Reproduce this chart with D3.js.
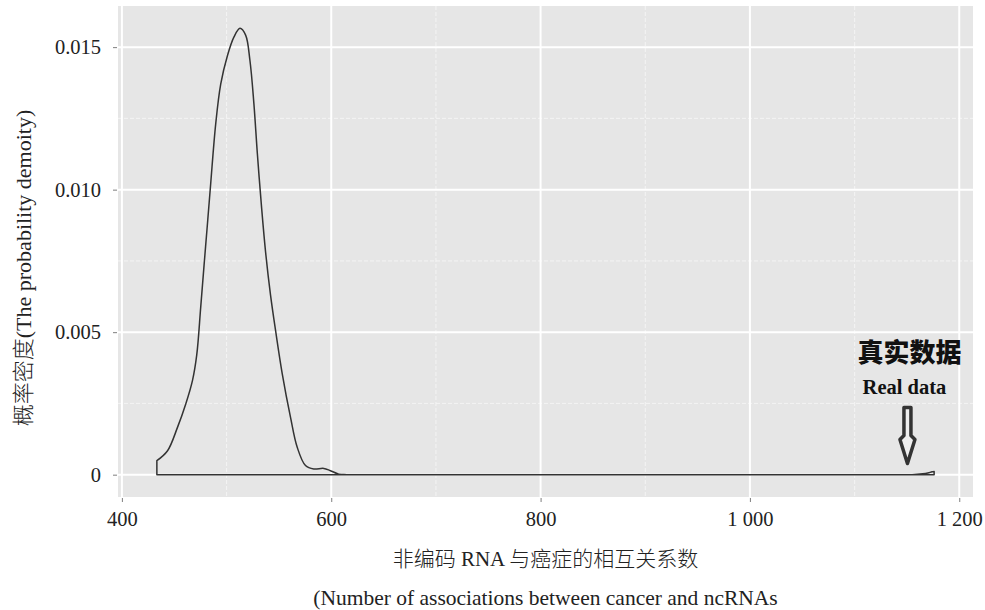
<!DOCTYPE html>
<html>
<head>
<meta charset="utf-8">
<script src="https://cdn.jsdelivr.net/npm/d3@7"></script>
<style>
  body { margin: 0; background: #fff; }
  text { font-family: "Liberation Serif", "Noto Sans CJK SC", serif; }
</style>
</head>
<body>
<div id="chart"></div>
<script>
// density curve
var densityX = [433.4, 443.6, 453.1, 461, 467.4, 471.5, 475.3, 478.5, 481.5, 484.8, 489.6, 494.4,
    500.8, 507.1, 512.8, 518.2, 522.3, 526.1, 529.4, 533.5, 537.3, 542, 546.8, 553.2, 561.1,
    567.5, 575.4, 583.3, 592.9, 599.2, 607.2, 615, 700, 800, 900, 1000, 1100, 1155, 1165, 1170, 1174, 1176];
var densityY = [0.00049, 0.00084, 0.00166, 0.00248, 0.0033, 0.0042, 0.00588, 0.00735, 0.0087, 0.0102, 0.0123, 0.0137,
    0.0147, 0.01536, 0.01566, 0.01542, 0.01454, 0.01302, 0.01127, 0.00935, 0.0078, 0.0063, 0.00506, 0.00354, 0.00201,
    0.00096, 0.00032, 0.0002, 0.00022, 0.00014, 0.00002, 0, 0, 0, 0, 0, 0, 0, 0.00003, 0.00006, 0.0001, 0.00011];

var xTicks = [400, 600, 800, 1000, 1200];
var xTickLabels = ["400", "600", "800", "1 000", "1 200"];
var xMinor = [500, 700, 900, 1100];
var yTicks = [0, 0.005, 0.010, 0.015];
var yTickLabels = ["0", "0.005", "0.010", "0.015"];
var yMinor = [0.0025, 0.0075, 0.0125];

// arrow tip of the "real data" note, in data units
var realData = { x: 1150.5, y: 0.00032 };

var width = 985, height = 610;
var panel = { left: 118, right: 973, top: 6, bottom: 497 };
var serif = "Liberation Serif, serif";
var cjk = "Noto Sans CJK SC";

var svg = d3.select("#chart").append("svg")
    .attr("width", width)
    .attr("height", height);

// ggplot-style 5% expansion
var xExt = d3.extent(densityX), xPad = (xExt[1] - xExt[0]) * 0.05;
var yMax = d3.max(densityY), yPad = yMax * 0.05;

var x = d3.scaleLinear()
    .domain([xExt[0] - xPad, xExt[1] + xPad])
    .range([panel.left, panel.right]);
var y = d3.scaleLinear()
    .domain([-yPad, yMax + yPad])
    .range([panel.bottom, panel.top]);

svg.append("rect")
    .attr("x", panel.left).attr("y", panel.top)
    .attr("width", panel.right - panel.left)
    .attr("height", panel.bottom - panel.top)
    .attr("fill", "#e6e6e6");

// minor grid
svg.selectAll(".xminor").data(xMinor).enter().append("line")
    .attr("x1", function (d) { return x(d); }).attr("x2", function (d) { return x(d); })
    .attr("y1", panel.top).attr("y2", panel.bottom)
    .attr("stroke", "#f4f4f4").attr("stroke-width", 1).attr("stroke-dasharray", "4,2");
svg.selectAll(".yminor").data(yMinor).enter().append("line")
    .attr("y1", function (d) { return y(d); }).attr("y2", function (d) { return y(d); })
    .attr("x1", panel.left).attr("x2", panel.right)
    .attr("stroke", "#f4f4f4").attr("stroke-width", 1).attr("stroke-dasharray", "4,2");

// major grid
svg.selectAll(".xmajor").data(xTicks).enter().append("line")
    .attr("x1", function (d) { return x(d); }).attr("x2", function (d) { return x(d); })
    .attr("y1", panel.top).attr("y2", panel.bottom)
    .attr("stroke", "#fff").attr("stroke-width", 2);
svg.selectAll(".ymajor").data(yTicks).enter().append("line")
    .attr("y1", function (d) { return y(d); }).attr("y2", function (d) { return y(d); })
    .attr("x1", panel.left).attr("x2", panel.right)
    .attr("stroke", "#fff").attr("stroke-width", 2);

// axes
var xAxis = d3.axisBottom(x).tickValues(xTicks)
    .tickFormat(function (d, i) { return xTickLabels[i]; })
    .tickSize(4).tickPadding(9);
var gx = svg.append("g").attr("transform", "translate(0," + (panel.bottom + 1) + ")").call(xAxis);
var yAxis = d3.axisLeft(y).tickValues(yTicks)
    .tickFormat(function (d, i) { return yTickLabels[i]; })
    .tickSize(4).tickPadding(12);
var gy = svg.append("g").attr("transform", "translate(" + (panel.left - 1) + ",0)").call(yAxis);

[gx, gy].forEach(function (g) {
    g.select(".domain").remove();
    g.selectAll(".tick line").attr("stroke", "#7f7f7f");
    g.selectAll(".tick text")
        .attr("fill", "#222")
        .style("font-size", "20.5px")
        .style("font-family", serif);
});

// density outline (closed like geom_density)
var pts = densityX.map(function (d, i) { return [x(d), y(densityY[i])]; });
var curve = d3.line().curve(d3.curveCatmullRom.alpha(0.5))(pts);
curve += "L" + x(xExt[1]) + "," + y(0) + "L" + x(xExt[0]) + "," + y(0) + "Z";
svg.append("path")
    .attr("d", curve)
    .attr("fill", "none")
    .attr("stroke", "#333")
    .attr("stroke-width", 1.5)
    .attr("stroke-linejoin", "round");

// annotation
var ax = x(realData.x), ay = y(realData.y);
svg.append("text")
    .attr("x", ax + 2).attr("y", ay - 104)
    .attr("text-anchor", "middle")
    .style("font-family", cjk)
    .style("font-weight", 900)
    .style("font-size", "26px")
    .attr("fill", "#111")
    .text("真实数据");
svg.append("text")
    .attr("x", ax - 3).attr("y", ay - 72)
    .attr("text-anchor", "middle")
    .style("font-family", serif)
    .style("font-weight", "bold")
    .style("font-size", "20.5px")
    .attr("fill", "#111")
    .text("Real data");

var arrow = d3.path();
arrow.moveTo(ax - 3.5, ay - 58);
arrow.lineTo(ax + 3.5, ay - 58);
arrow.lineTo(ax + 3.5, ay - 30);
arrow.lineTo(ax + 7.5, ay - 26);
arrow.lineTo(ax, ay - 2);
arrow.lineTo(ax - 7.5, ay - 26);
arrow.lineTo(ax - 3.5, ay - 30);
arrow.closePath();
svg.append("path")
    .attr("d", arrow.toString())
    .attr("fill", "#eee")
    .attr("stroke", "#333")
    .attr("stroke-width", 3.5)
    .attr("stroke-linejoin", "round");

// axis titles: CJK part and Latin part in their own fonts
function title(sel, parts, size) {
    parts.forEach(function (p) {
        sel.append("tspan")
            .style("font-family", p.cjk ? cjk : serif)
            .style("font-weight", p.cjk ? 300 : 400)
            .text(p.t);
    });
    sel.style("font-size", size).attr("fill", "#222").attr("text-anchor", "middle");
}

title(svg.append("text").attr("transform", "translate(31,268) rotate(-90)"),
    [{ t: "概率密度", cjk: true }, { t: "(The probability demoity)" }], "22px");

title(svg.append("text").attr("x", (panel.left + panel.right) / 2).attr("y", 566),
    [{ t: "非编码", cjk: true }, { t: " RNA " }, { t: "与癌症的相互关系数", cjk: true }], "21px");

title(svg.append("text").attr("x", (panel.left + panel.right) / 2).attr("y", 605),
    [{ t: "(Number of associations between cancer and ncRNAs" }], "21.5px");
</script>
</body>
</html>
